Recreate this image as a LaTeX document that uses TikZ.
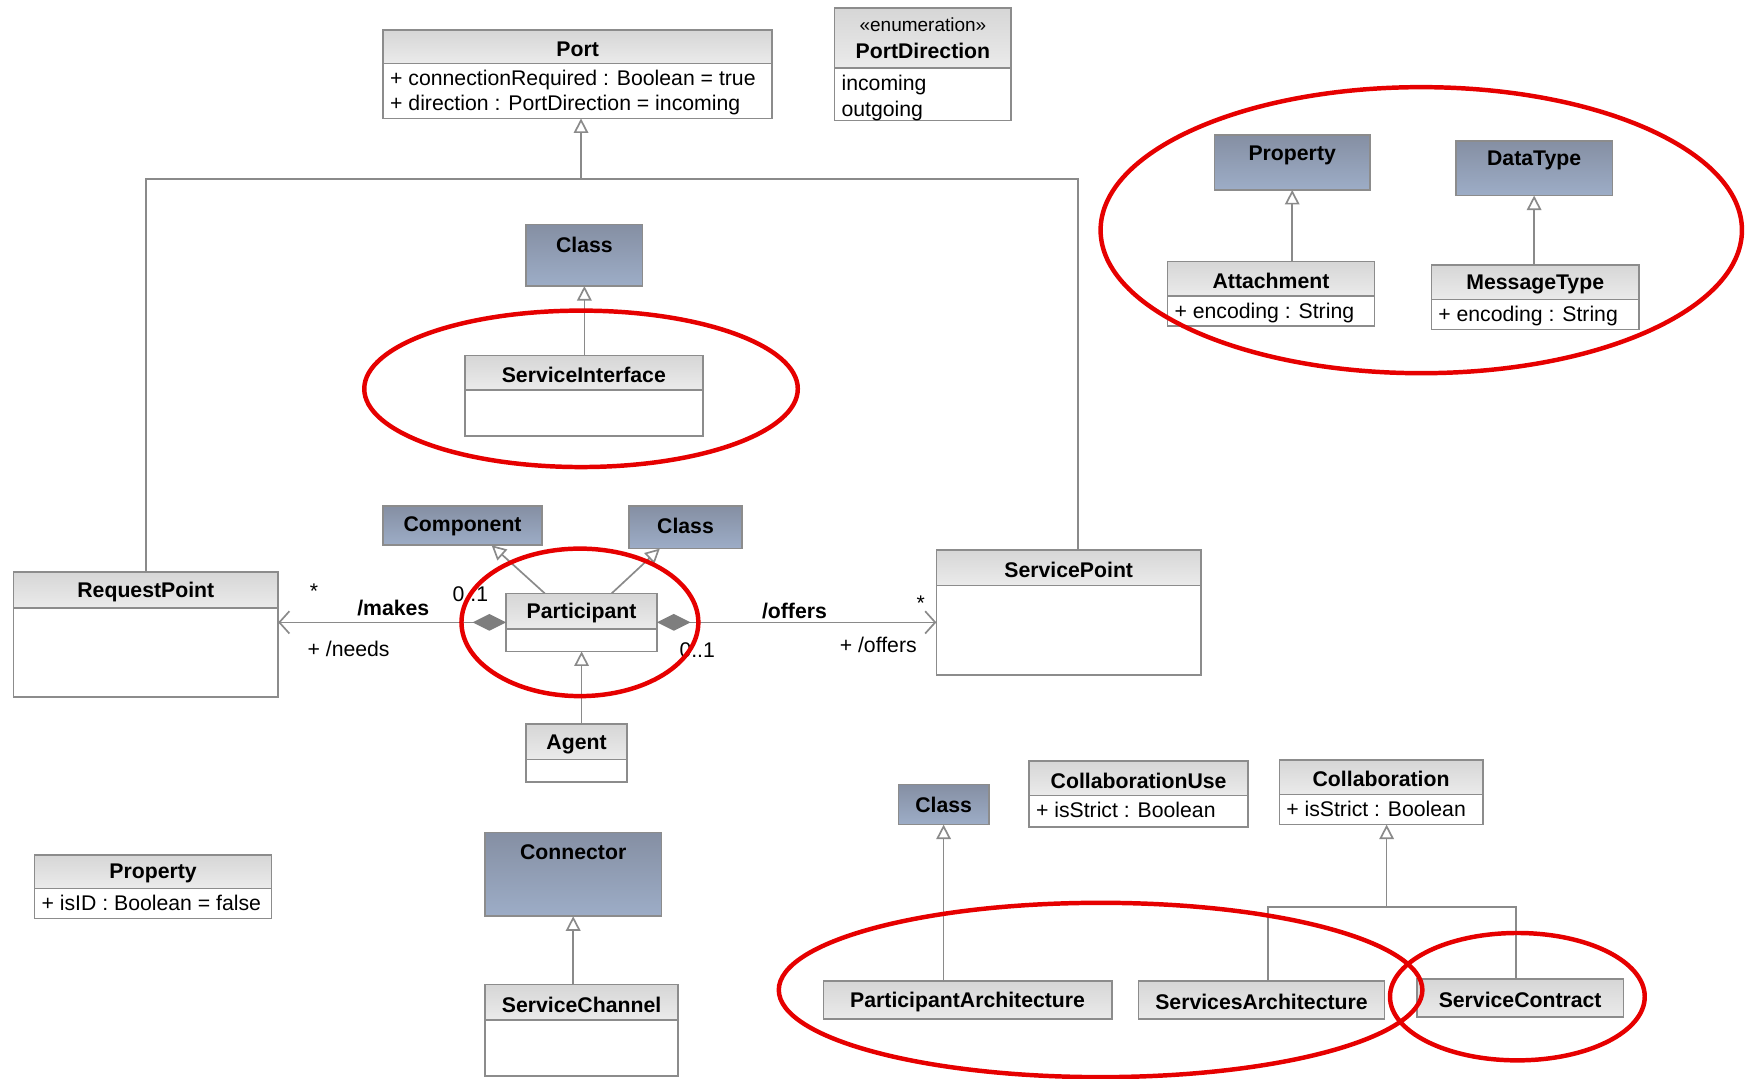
\documentclass[tikz,border=0pt]{standalone}
\usepackage{fontspec}
\setmainfont{Liberation Sans}
\usetikzlibrary{arrows.meta}

\definecolor{frame}{HTML}{8C8C8C}
\definecolor{wire}{HTML}{8A8A8A}
\definecolor{metatop}{HTML}{858FA3}
\definecolor{metabot}{HTML}{9DADC7}
\definecolor{diam}{HTML}{7E7E7E}
\definecolor{ring}{HTML}{E60000}

\tikzset{
  txt/.style={font=\fontsize{19}{22}\selectfont, inner sep=0pt},
  ttl/.style={font=\fontsize{19}{22}\selectfont\bfseries, inner sep=0pt},
  attr/.style={txt, anchor=north west, align=left},
  boxframe/.style={draw=frame, line width=1.4pt, inner sep=0pt, outer sep=0pt},
  metabox/.style={boxframe, top color=metatop, bottom color=metabot},
  sepline/.style={draw=frame, line width=1.2pt},
  wireline/.style={draw=wire, line width=1.5pt},
  gen/.style={wireline, -{Triangle[open, length=13pt, width=13pt, fill=white]}},
  assoc/.style={wireline, {Diamond[length=30pt, width=15pt, fill=diam, color=diam]}-{Straight Barb[length=9pt, width=20pt]}},
  redring/.style={draw=ring, line width=4pt},
}

% class box: name, x1, y1, x2, y2, y of title separator, title, attributes
\newcommand\umlclass[8]{%
  \shade[top color=black!16, middle color=white, bottom color=black!8] (#2,#3) rectangle (#4,#6);
  \fill[white] (#2,#6) rectangle (#4,#5);
  \draw[sepline] (#2,#6) -- (#4,#6);
  \node[boxframe, minimum width=#4pt-#2pt, minimum height=#5pt-#3pt] (#1) at ({(#2+#4)/2},{(#3+#5)/2}) {};
  \node[ttl] (#1-t) at ({(#2+#4)/2},{(#3+#6)/2+2}) {#7};
  \node[attr] (#1-a) at (#2+6,#6+6) {#8};
}
% metaclass box: name, x1, y1, x2, y2, title
\newcommand\metaclass[6]{%
  \node[metabox, minimum width=#4pt-#2pt, minimum height=#5pt-#3pt] (#1) at ({(#2+#4)/2},{(#3+#5)/2}) {};
  \node[ttl] (#1-t) at ({(#2+#4)/2},#3+18) {#6};
}

\begin{document}
\begin{tikzpicture}[x=1pt, y=-1pt]
\useasboundingbox (0,0) rectangle (1568,965);
\fill[white] (0,0) rectangle (1568,965);

% ---- Port and its specialisations
\umlclass{port}{343}{27}{691}{106}{57}{Port}{+ connectionRequired : Boolean = true\\+ direction : PortDirection = incoming}
\umlclass{pdir}{747}{7}{905}{108}{61}{}{incoming\\[1pt]outgoing}
\node[txt, align=center] (pdir-st) at (826,22) {\fontsize{17}{20}\selectfont «enumeration»};
\node[ttl] (pdir-n) at (826,46) {PortDirection};

\umlclass{reqp}{12}{512}{249}{624}{544}{RequestPoint}{}
\umlclass{svcp}{838}{492}{1075}{604}{524}{ServicePoint}{}

\coordinate (pbr) at (520,160);
\draw[wireline] (reqp.north) |- (pbr) -| ([xshift=8pt]svcp.north);
\draw[gen] (pbr) -- (pbr |- port.south);

% ---- ServiceInterface
\metaclass{clsA}{471}{201}{575}{256}{Class}
\umlclass{sif}{416}{318}{629}{390}{349}{ServiceInterface}{}
\draw[gen] (clsA.south |- sif.north) -- (clsA.south);

% ---- Attachment / MessageType
\metaclass{propB}{1087}{121}{1226}{170}{Property}
\metaclass{dtype}{1303}{126}{1443}{175}{DataType}
\umlclass{attach}{1045}{234}{1230}{292}{265}{Attachment}{+ encoding : String}
\umlclass{msgt}{1281}{237}{1467}{295}{268}{MessageType}{+ encoding : String}
\draw[gen] (propB.south |- attach.north) -- (propB.south);
\draw[gen] (dtype.south |- msgt.north) -- (dtype.south);

% ---- Participant
\metaclass{comp}{343}{453}{485}{488}{Component}
\metaclass{clsB}{563}{453}{664}{491}{Class}
\umlclass{part}{453}{531}{588}{583}{563}{Participant}{}
\umlclass{agent}{471}{648}{561}{700}{680}{Agent}{}
\draw[gen] ([xshift=-33pt]part.north) -- ([xshift=26pt]comp.south);
\draw[gen] ([xshift=27pt]part.north) -- ([xshift=-23pt]clsB.south);
\draw[gen] (part.south |- agent.north) -- (part.south);

\draw[assoc] (part.west) -- (part.west -| reqp.east);
\draw[assoc] (part.east) -- (part.east -| svcp.west);

\node[txt] (m1) at (281,529) {*};
\node[txt] (m2) at (352,544) {\bfseries /makes};
\node[txt] (m3) at (421,532) {0..1};
\node[txt] (m4) at (312,581) {+ /needs};
\node[txt] (o1) at (711,547) {\bfseries /offers};
\node[txt] (o2) at (824,540) {*};
\node[txt] (o3) at (786,577) {+ /offers};
\node[txt] (o4) at (624,582) {0..1};

% ---- Property, ServiceChannel
\umlclass{propA}{31}{765}{243}{822}{795}{Property}{+ isID : Boolean = false}
\metaclass{conn}{434}{745}{592}{820}{Connector}
\umlclass{chan}{434}{881}{607}{963}{913}{ServiceChannel}{}
\draw[gen] (conn.south |- chan.north) -- (conn.south);

% ---- Architectures and contracts
\metaclass{clsC}{804}{702}{885}{738}{Class}
\umlclass{cuse}{921}{681}{1117}{740}{712}{CollaborationUse}{+ isStrict : Boolean}
\umlclass{collab}{1145}{680}{1327}{738}{711}{Collaboration}{+ isStrict : Boolean}
\umlclass{parch}{737}{878}{995}{912}{912}{ParticipantArchitecture}{}
\umlclass{sarch}{1019}{878}{1239}{912}{912}{ServicesArchitecture}{}
\umlclass{scon}{1268}{876}{1453}{910}{910}{ServiceContract}{}
\draw[gen] (clsC.south |- parch.north) -- (clsC.south);
\coordinate (cbr) at (1241,812);
\draw[wireline] ([xshift=6pt]sarch.north) |- (cbr) -| ([xshift=-4pt]scon.north);
\draw[gen] (cbr) -- (cbr |- collab.south);

% ---- highlight rings
\draw[redring] (520,348) ellipse [x radius=194, y radius=70];
\draw[redring] (1272,206) ellipse [x radius=287, y radius=128];
\draw[redring] (519,557) ellipse [x radius=106, y radius=66];
\draw[redring] (985,886) ellipse [x radius=288, y radius=78];
\draw[redring] (1358,892) ellipse [x radius=114, y radius=57];
\end{tikzpicture}
\end{document}
